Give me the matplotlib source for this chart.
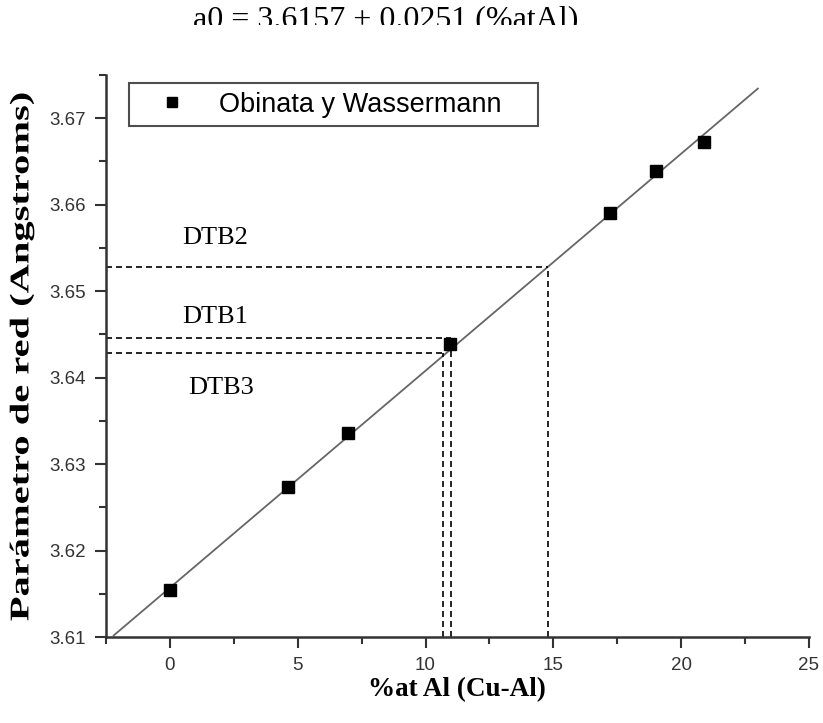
import matplotlib
matplotlib.use("Agg")
import matplotlib.pyplot as plt
from matplotlib.patches import Rectangle, PathPatch
from matplotlib.textpath import TextPath
from matplotlib.font_manager import FontProperties
from matplotlib.transforms import Affine2D
from matplotlib.ticker import MultipleLocator, FormatStrFormatter

# Obinata y Wassermann data
al_pct = [0.0, 4.6, 6.97, 10.97, 17.2, 19.0, 20.9]
lattice = [3.6154, 3.6273, 3.6336, 3.6439, 3.6590, 3.6639, 3.6673]

# linear fit a0 = 3.6157 + 0.00251 * %at Al
intercept = 3.6157
slope = 0.00251
fit_x = [-2.2, 23.0]

# DTB samples: (name, %at Al, lattice parameter)
dtb_names = ["DTB2", "DTB1", "DTB3"]
dtb_x = [14.8, 11.0, 10.68]
dtb_y = [3.6528, 3.64453, 3.6429]
dtb_label_x = [0.5, 0.5, 0.7]
dtb_label_y = [3.6562, 3.6470, 3.6388]

sans = "Liberation Sans"
serif = "Liberation Serif"

fig = plt.figure(figsize=(8.23, 7.23), dpi=100)
ax = fig.add_axes([106/823, 86/723, 703/823, 562/723])

ax.plot(fit_x, [intercept + slope*x for x in fit_x], color="#666666", lw=1.3, zorder=2)
ax.plot(al_pct, lattice, "s", color="black", ms=8, ls="none",
        label="Obinata y Wassermann", zorder=3)

xmin, ymin = -2.5, 3.61
for name, xv, yv, lx, ly in zip(dtb_names, dtb_x, dtb_y, dtb_label_x, dtb_label_y):
    ax.plot([xmin, xv], [yv, yv], color="black", lw=1.2, dashes=(3.6, 2.4))
    ax.plot([xv, xv], [ymin, yv], color="black", lw=1.2, dashes=(3.6, 2.4))
    ax.text(lx, ly, name, family=serif, fontsize=19, va="center", ha="left")

ax.set_xlim(xmin, 25)
ax.set_ylim(ymin, 3.675)
ax.xaxis.set_major_locator(MultipleLocator(5))
ax.xaxis.set_minor_locator(MultipleLocator(2.5))
ax.yaxis.set_major_locator(MultipleLocator(0.01))
ax.yaxis.set_minor_locator(MultipleLocator(0.005))
ax.yaxis.set_major_formatter(FormatStrFormatter("%.2f"))

for s in ["top", "right"]:
    ax.spines[s].set_visible(False)
for s in ["left", "bottom"]:
    ax.spines[s].set_color("#333333")
    ax.spines[s].set_linewidth(1.8)

ax.tick_params(which="major", direction="out", length=8, width=1.5, color="#333333",
               labelsize=13.5, labelcolor="#333333", pad=6.5)
ax.tick_params(which="minor", direction="out", length=5, width=1.5, color="#333333")
for lab in ax.get_xticklabels() + ax.get_yticklabels():
    lab.set_family(sans)

leg = ax.legend(loc="upper left", bbox_to_anchor=(23/703, 0.5, 409/703, 0.486),
                mode="expand", borderaxespad=0, prop={"family": sans, "size": 19.5},
                fancybox=False, frameon=True, borderpad=0.32, handlelength=2.55,
                handletextpad=0.46, markerscale=0.9)
leg.get_frame().set_edgecolor("#222222")
leg.get_frame().set_linewidth(1.5)

fig.text(457/823, 1 - 690/723, "%at Al (Cu-Al)", family=serif, weight="bold",
         fontsize=19.5, ha="center", va="center")

# y label: stretched along its length as in the original
ylab = TextPath((0, 0), "Parámetro de red (Angstroms)", size=27,
                prop=FontProperties(family=serif, weight="bold"))
bb = ylab.get_extents()
stretch = 527 / bb.width
tr = (Affine2D().translate(-(bb.x0 + bb.width/2), -(bb.y0 + bb.height/2))
      .scale(stretch, 1).rotate_deg(90).translate(22, 723 - 357))
fig.add_artist(PathPatch(ylab, transform=tr, facecolor="black", edgecolor="none"))

fig.text(386/823, 1 - 27/723, "a0 = 3.6157 + 0.0251 (%atAl)", family=serif,
         fontsize=23, ha="center", va="baseline")
# the equation is cut off at the bottom in the original
fig.add_artist(Rectangle((0, 1 - 60/723), 1, 35/723, transform=fig.transFigure,
                         facecolor="white", edgecolor="none", zorder=10))

fig.savefig("out.png", dpi=100)
